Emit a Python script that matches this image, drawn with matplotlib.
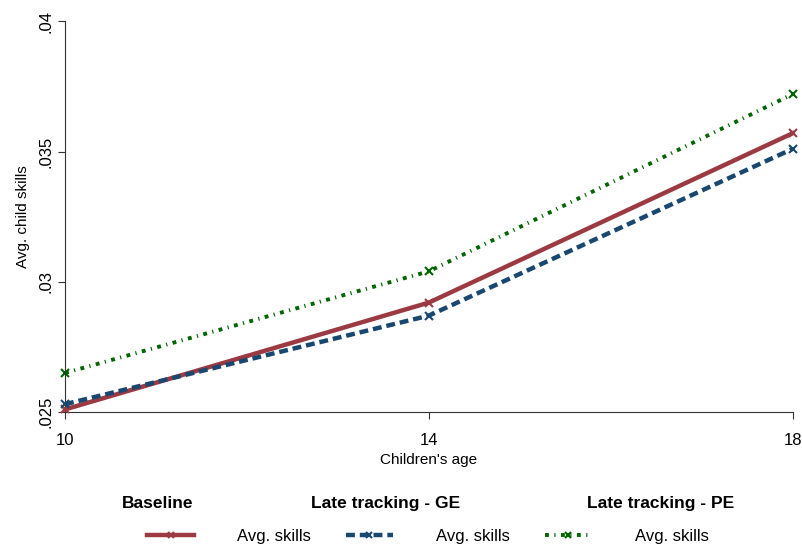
import matplotlib
matplotlib.use("Agg")
import matplotlib.pyplot as plt
from matplotlib.ticker import FixedLocator, FixedFormatter

plt.rcParams['font.family'] = ['Liberation Sans', 'DejaVu Sans']

# data
ages = [10, 14, 18]
baseline = [0.0251, 0.0292, 0.0357]
late_ge = [0.0253, 0.0287, 0.0351]
late_pe = [0.0265, 0.0304, 0.0372]

yticks = [0.025, 0.03, 0.035, 0.04]
ytick_labels = [".025", ".03", ".035", ".04"]
group_titles = ["Baseline", "Late tracking - GE", "Late tracking - PE"]

red = "#9B3A42"
blue = "#1A476F"
green = "#006400"

fig = plt.figure(figsize=(8.03, 5.45), dpi=100)
ax = fig.add_axes([0.081, 0.244, 0.906, 0.717])

l1, = ax.plot(ages, baseline, color=red, lw=3.2, marker='x', ms=6, mew=1.5,
              clip_on=False, zorder=3)
l2, = ax.plot(ages, late_ge, color=blue, lw=3.2, ls=(0, (2.0, 1.1)), marker='x',
              ms=6, mew=1.5, clip_on=False, zorder=4)
l3, = ax.plot(ages, late_pe, color=green, lw=2.8, ls=(0, (1.0, 1.4, 0.3, 1.4)),
              marker='x', ms=6, mew=1.5, clip_on=False, zorder=2)

ax.set_xlim(10, 18)
ax.set_ylim(0.025, 0.04)
ax.set_xticks(ages)
ax.yaxis.set_major_locator(FixedLocator(yticks))
ax.yaxis.set_major_formatter(FixedFormatter(ytick_labels))
for lab in ax.get_yticklabels():
    lab.set_rotation(90)
    lab.set_va('center')
ax.tick_params(labelsize=12, length=5, color='#333333')
ax.tick_params(axis='x', pad=10)
ax.spines['top'].set_visible(False)
ax.spines['right'].set_visible(False)
ax.spines['left'].set_color('#333333')
ax.spines['bottom'].set_color('#333333')
ax.set_xlabel("Children's age", fontsize=11, labelpad=4)
ax.set_ylabel("Avg. child skills", fontsize=11, labelpad=6)

# legend: bold group titles + entries
for xpos, title in zip([0.196, 0.48, 0.822], group_titles):
    fig.text(xpos, 0.077, title, ha='center', va='center', fontsize=12.5,
             fontweight='bold')
fig.legend([l1, l2, l3], ["Avg. skills"] * 3, ncol=3, loc='center',
           bbox_to_anchor=(0.533, 0.016), frameon=False, fontsize=12,
           handlelength=2.8, columnspacing=2.1, handletextpad=2.6, markerscale=0.8)

fig.savefig("out.png", dpi=100)
